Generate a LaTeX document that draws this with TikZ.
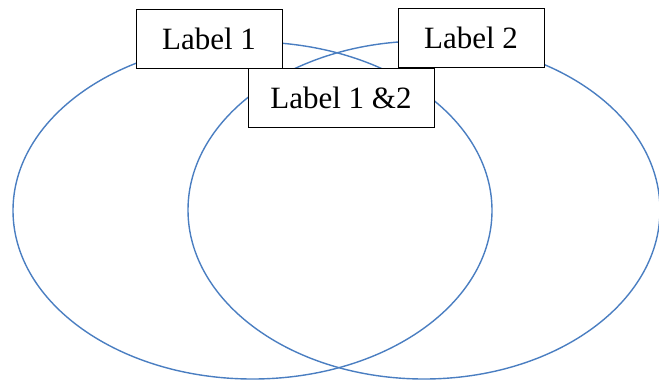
\documentclass[tikz,border=0pt]{standalone}
\usepackage{fontspec}
\setmainfont{Liberation Serif}
\begin{document}
\begin{tikzpicture}[x=1pt,y=-1pt,
  ring/.style={draw={rgb,255:red,74;green,126;blue,193},line width=1.4pt},
  lbl/.style={draw=black,fill=white,line width=1pt,rectangle,inner sep=0pt,
    font=\fontsize{31}{37}\selectfont}]
\useasboundingbox (0,0) rectangle (659,381);
\draw[ring] (252.5,210.5) ellipse [x radius=239.5, y radius=168.5];
\draw[ring] (424,210) ellipse [x radius=236, y radius=169];
\node[lbl,minimum width=146pt,minimum height=59pt] (l1) at (209,38.5) {Label 1};
\node[lbl,minimum width=146pt,minimum height=59pt] (l2) at (471,37.5) {Label 2};
\node[lbl,minimum width=186pt,minimum height=59pt] (l12) at (341,97.5) {Label 1 \&2};
\end{tikzpicture}
\end{document}
